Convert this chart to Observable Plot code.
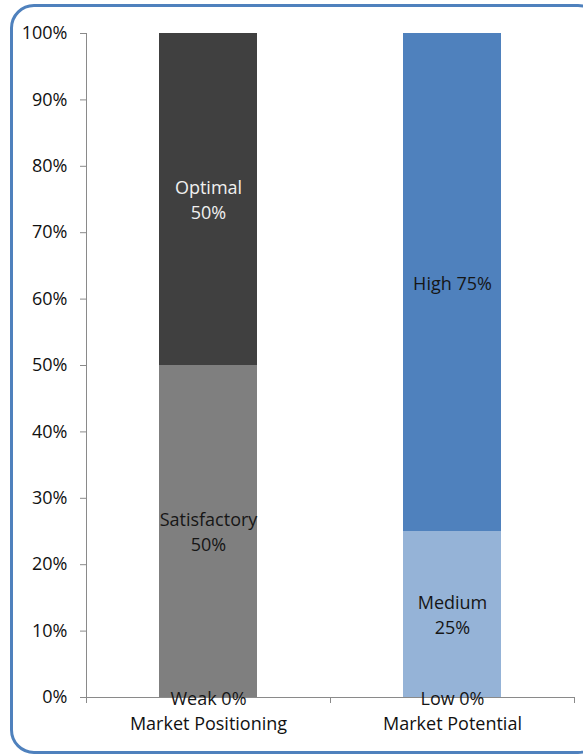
<!DOCTYPE html>
<html>
<head>
<meta charset="utf-8">
<script src="https://cdn.jsdelivr.net/npm/d3@7"></script>
<script src="https://cdn.jsdelivr.net/npm/@observablehq/plot@0.6"></script>
<style>
  html, body { margin: 0; padding: 0; background: #fff; overflow: hidden; }
  #wrap { position: relative; width: 583px; height: 755px; overflow: hidden; }
  #border {
    position: absolute; left: 10px; top: 4px; width: 592px; height: 750px;
    box-sizing: border-box; border: 3px solid #4F81BD; border-radius: 24px;
    pointer-events: none;
  }
</style>
</head>
<body>
<div id="wrap"><div id="border"></div></div>
<script>
const categories = ["Market Positioning", "Market Potential"];
const positioningSegments = ["Weak", "Satisfactory", "Optimal"];
const positioningValues = [0, 50, 50];
const positioningLabels = ["Weak 0%", "Satisfactory\n50%", "Optimal\n50%"];
const potentialSegments = ["Low", "Medium", "High"];
const potentialValues = [0, 25, 75];
const potentialLabels = ["Low 0%", "Medium\n25%", "High 75%"];
const yTicks = [0, 10, 20, 30, 40, 50, 60, 70, 80, 90, 100];

const data = [];
positioningSegments.forEach((s, i) => data.push({category: categories[0], segment: s, value: positioningValues[i], label: positioningLabels[i]}));
potentialSegments.forEach((s, i) => data.push({category: categories[1], segment: s, value: potentialValues[i], label: potentialLabels[i]}));

const axisColor = "#8a8a8a";
const font = "'Open Sans', sans-serif";

const plot = Plot.plot({
  width: 583,
  height: 755,
  marginLeft: 86,
  marginRight: 9,
  marginTop: 33,
  marginBottom: 58,
  style: {fontFamily: font, fontSize: "18px", color: "#111", background: "transparent"},
  x: {domain: categories, paddingInner: 0.6, paddingOuter: 0.3, label: null},
  y: {domain: [0, 100], label: null},
  color: {
    domain: ["Weak", "Satisfactory", "Optimal", "Low", "Medium", "High"],
    range: ["#7F7F7F", "#7F7F7F", "#404040", "#95B3D7", "#95B3D7", "#4F81BD"]
  },
  marks: [
    Plot.barY(data, Plot.stackY({x: "category", y: "value", fill: "segment"})),
    Plot.ruleY([0], {stroke: axisColor, strokeWidth: 1}),
    Plot.axisY({ticks: yTicks, tickSize: 6, tickPadding: 13, tickFormat: d => d + "%", stroke: axisColor, fill: "#111", fontSize: 18, label: null}),
    Plot.axisX({tickSize: 0, tickPadding: 20, fill: "#111", fontSize: 18, label: null}),
    Plot.text(data, Plot.stackY({
      x: "category", y: "value", text: "label",
      fill: d => d.segment === "Optimal" ? "#f0f0f0" : "#161616",
      fontSize: 18, lineHeight: 1.42, dy: -1
    }))
  ]
});

// axis line and category-boundary ticks from the scales
const sx = plot.scale("x");
const sy = plot.scale("y");
const gap = (sx.step - sx.bandwidth) / 2;
const bounds = categories.map(c => sx.apply(c) - gap);
bounds.push(sx.apply(categories[categories.length - 1]) + sx.bandwidth + gap);
const y0 = sy.apply(0), y1 = sy.apply(100);
const g = d3.select(plot).append("g").attr("stroke", axisColor).attr("stroke-width", 1);
g.append("line").attr("x1", bounds[0] + 0.5).attr("x2", bounds[0] + 0.5).attr("y1", y1).attr("y2", y0);
bounds.forEach(b => g.append("line").attr("x1", b + 0.5).attr("x2", b + 0.5).attr("y1", y0).attr("y2", y0 + 6));

document.getElementById("wrap").insertBefore(plot, document.getElementById("border"));
plot.style.position = "absolute";
plot.style.left = "0";
plot.style.top = "0";
</script>
</body>
</html>
